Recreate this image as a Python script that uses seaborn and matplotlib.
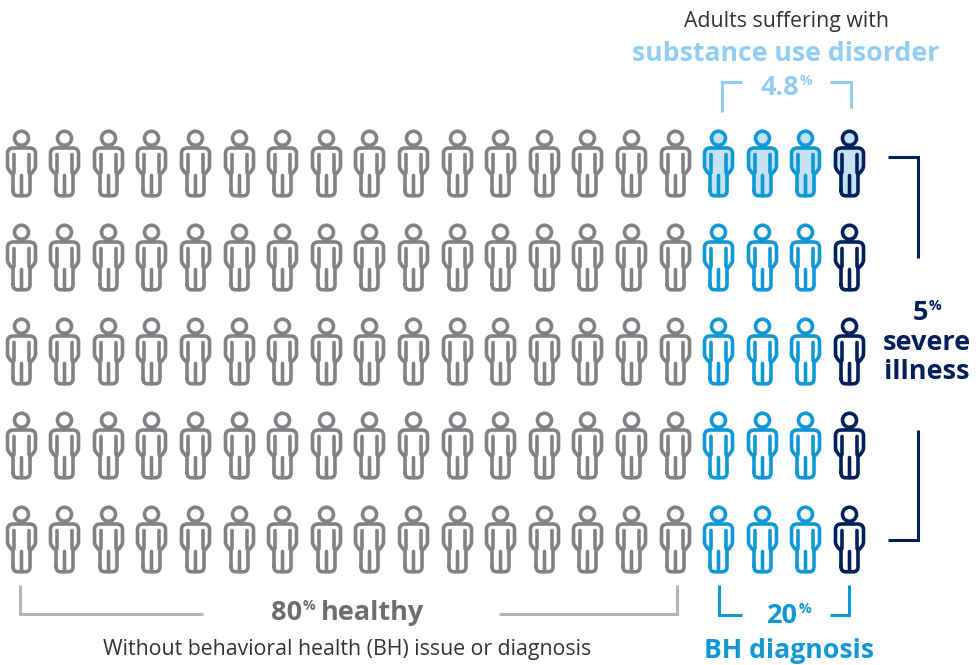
import matplotlib.pyplot as plt
import numpy as np
import pandas as pd
import seaborn as sns
from matplotlib.markers import MarkerStyle
from matplotlib.path import Path

# chart values
ROWS = 5
COLUMN_GROUPS = ["healthy"] * 16 + ["bh"] * 3 + ["severe"]
SUBSTANCE_ROWS = [0]
SUBSTANCE_GROUPS = ["bh", "severe"]

HEALTHY_PCT = "80"
BH_PCT = "20"
SEVERE_PCT = "5"
SUBSTANCE_PCT = "4.8"

GRAY = "#808285"
GRAY_TEXT = "#6d6e71"
GRAY_LINE = "#b4b5b7"
BLUE = "#0f98d5"
NAVY = "#00205c"
LIGHT = "#93cdf1"
FILL = "#c5e2f5"
DARK = "#333333"

W, H = 980, 665


def person_marker():
    # outline in pixels around the figure's centre, y up
    body = [
        (Path.MOVETO, (-8.5, -27)),
        (Path.LINETO, (-8.5, -11)),
        (Path.CURVE3, (-14, -6.5)),
        (Path.CURVE3, (-14, -2.5)),
        (Path.LINETO, (-14, 10)),
        (Path.CURVE3, (-14, 15.5)),
        (Path.CURVE3, (-8, 15.5)),
        (Path.LINETO, (8, 15.5)),
        (Path.CURVE3, (14, 15.5)),
        (Path.CURVE3, (14, 10)),
        (Path.LINETO, (14, -2.5)),
        (Path.CURVE3, (14, -6.5)),
        (Path.CURVE3, (8.5, -11)),
        (Path.LINETO, (8.5, -27)),
        (Path.CURVE3, (8.5, -32.25)),
        (Path.CURVE3, (4, -32.25)),
        (Path.LINETO, (-4, -32.25)),
        (Path.CURVE3, (-8.5, -32.25)),
        (Path.CURVE3, (-8.5, -27)),
    ]
    inner = [
        (Path.MOVETO, (-7.5, 9)), (Path.LINETO, (-7.5, -9)),
        (Path.MOVETO, (7.5, 9)), (Path.LINETO, (7.5, -9)),
        (Path.MOVETO, (0, -12)), (Path.LINETO, (0, -32)),
    ]
    head = Path.circle((0, 25.25), 7)
    parts = Path(
        [v for _, v in body] + [v for _, v in inner],
        [c for c, _ in body] + [c for c, _ in inner],
    )
    return MarkerStyle(Path.make_compound_path(parts, head))


# px size: marker paths get normalised to their largest coordinate
MARKER_S = (0.72 * 2 * 32.25) ** 2

rows = []
for r in range(ROWS):
    for c, group in enumerate(COLUMN_GROUPS):
        rows.append({"col": c, "row": r, "group": group,
                     "substance": r in SUBSTANCE_ROWS and group in SUBSTANCE_GROUPS})
people = pd.DataFrame(rows)

sns.set_style("white")
plt.rcParams["font.family"] = ["Open Sans", "DejaVu Sans"]

fig = plt.figure(figsize=(W / 100, H / 100), dpi=100)
ax = fig.add_axes([0, 0, 1, 1])

edges = {"healthy": GRAY, "bh": BLUE, "severe": NAVY}
marker = person_marker()
for (group, substance), part in people.groupby(["group", "substance"]):
    sns.scatterplot(data=part, x="col", y="row", ax=ax, marker=marker, s=MARKER_S,
                    color=FILL if substance else "white", edgecolor=edges[group],
                    linewidth=2.6, joinstyle="round", capstyle="round",
                    legend=False, zorder=3)

# column 0 sits at x=20.5px, row 0 at y=163px
ax.set_xlim(-20.5 / 43.6, (W - 20.5) / 43.6)
ax.set_ylim((H - 163) / 94, -163 / 94)
ax.axis("off")

overlay = fig.add_axes([0, 0, 1, 1])
overlay.set_xlim(0, W)
overlay.set_ylim(H, 0)
overlay.axis("off")
overlay.patch.set_alpha(0)


def bracket(points, color, lw=2.2):
    xs, ys = zip(*points)
    overlay.plot(xs, ys, color=color, lw=lw, solid_joinstyle="miter", solid_capstyle="butt")


def label(x, y, text, color, size, weight="bold", ha="center"):
    return overlay.text(x, y, text, color=color, fontsize=size, fontweight=weight,
                        ha=ha, va="center")


def pct_label(x, y, value, color, size, after=""):
    # number plus small raised percent sign, then optional trailing words
    renderer = fig.canvas.get_renderer()
    t = label(x, y, value, color, size, ha="left")
    box = t.get_window_extent(renderer)
    s = label(box.x1 + 0.5, y - size * 0.36, "%", color, size * 0.52, ha="left")
    if after:
        box2 = s.get_window_extent(renderer)
        label(box2.x1 + 6, y, after, color, size, ha="left")


bracket([(722, 112), (722, 82), (742, 82)], LIGHT)
bracket([(830, 82), (851, 82), (851, 108)], LIGHT)
bracket([(888, 157), (918, 157), (918, 258)], NAVY)
bracket([(888, 540), (918, 540), (918, 430)], NAVY)
bracket([(719, 585), (719, 615), (742, 615)], BLUE)
bracket([(830, 615), (849, 615), (849, 585)], BLUE)
bracket([(20, 585), (20, 614), (203, 614)], GRAY_LINE)
bracket([(499, 614), (677, 614), (677, 585)], GRAY_LINE)

label(786, 21, "Adults suffering with", DARK, 15.3, weight="normal")
label(786, 54, "substance use disorder", LIGHT, 19.2)
pct_label(760, 88, SUBSTANCE_PCT, LIGHT, 19.5)

pct_label(271, 613, HEALTHY_PCT, GRAY_TEXT, 19.5, after="healthy")
label(347, 650, "Without behavioral health (BH) issue or diagnosis", DARK, 15.3, weight="normal")

pct_label(767, 616, BH_PCT, BLUE, 19.5)
label(789, 651, "BH diagnosis", BLUE, 19.2)

pct_label(913, 313, SEVERE_PCT, NAVY, 19.5)
label(927, 343, "severe", NAVY, 19.5)
label(927, 372, "illness", NAVY, 19.5)

fig.savefig("out.png", dpi=100)
